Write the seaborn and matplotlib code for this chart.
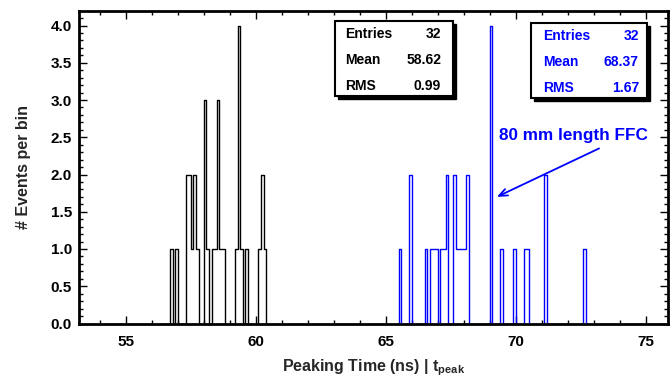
import numpy as np
import pandas as pd
import matplotlib
matplotlib.use("Agg")
import matplotlib.pyplot as plt
import seaborn as sns
from matplotlib.ticker import MultipleLocator, FormatStrFormatter
from matplotlib.patches import Rectangle

# ---------------- data (bin left edges, counts per 0.1 ns bin) ----------------
bin_width = 0.1
black_bins = [56.7, 56.9, 57.3, 57.4, 57.5, 57.6, 57.7, 58.0, 58.1, 58.3, 58.4,
              58.5, 58.6, 58.7, 59.2, 59.3, 59.4, 59.6, 60.1, 60.2, 60.3]
black_counts = [1, 1, 2, 2, 1, 2, 1, 3, 1, 1, 1,
                3, 1, 1, 1, 4, 1, 1, 1, 2, 1]
blue_bins = [65.5, 65.9, 66.5, 66.7, 66.8, 66.9, 67.1, 67.2, 67.3, 67.6, 67.7,
             67.8, 67.9, 68.0, 68.1, 69.0, 69.4, 69.9, 70.3, 70.4, 71.1, 72.6]
blue_counts = [1, 2, 1, 1, 1, 1, 1, 1, 2, 2, 1,
               1, 1, 1, 2, 4, 1, 1, 1, 1, 2, 1]

stats_labels = ["Entries", "Mean", "RMS"]
black_stats = ["32", "58.62", "0.99"]
blue_stats = ["32", "68.37", "1.67"]

x_label = "Peaking Time (ns) | t$_{peak}$"
y_label = "# Events per bin"
annotation = "80 mm length FFC"

# ---------------- style ----------------
sns.set_style("ticks")
plt.rcParams['font.family'] = ['Liberation Sans', 'DejaVu Sans']
plt.rcParams['font.weight'] = 'bold'
plt.rcParams['mathtext.fontset'] = 'custom'
plt.rcParams['mathtext.rm'] = 'Liberation Sans:bold'
plt.rcParams['mathtext.it'] = 'Liberation Sans:bold'
plt.rcParams['mathtext.bf'] = 'Liberation Sans:bold'
plt.rcParams['mathtext.default'] = 'bf'

fig = plt.figure(figsize=(6.72, 3.82), dpi=100)
ax = fig.add_axes([79 / 672, 1 - 323.5 / 382, 589 / 672, 312.5 / 382])


def draw_hist(lefts, counts, color):
    lefts = np.asarray(lefts, dtype=float)
    lo = round(lefts.min() - 2 * bin_width, 2)
    hi = round(lefts.max() + 3 * bin_width, 2)
    df = pd.DataFrame({"t": lefts + bin_width / 2, "w": np.asarray(counts, dtype=float)})
    sns.histplot(data=df, x="t", weights="w", binwidth=bin_width, binrange=(lo, hi),
                 element="step", fill=False, color=color, linewidth=1.0, ax=ax)


draw_hist(black_bins, black_counts, "black")
draw_hist(blue_bins, blue_counts, "#0000ff")

ax.set_xlim(53.2, 75.85)
ax.set_ylim(0, 312.5 / 74.5)

ax.xaxis.set_major_locator(MultipleLocator(5))
ax.xaxis.set_minor_locator(MultipleLocator(1))
ax.yaxis.set_major_locator(MultipleLocator(0.5))
ax.yaxis.set_minor_locator(MultipleLocator(0.1))
ax.yaxis.set_major_formatter(FormatStrFormatter("%.1f"))

ax.tick_params(which='both', direction='in', top=True, right=True,
               width=1.0, labelsize=11, colors='black')
ax.tick_params(which='major', length=6)
ax.tick_params(which='minor', length=3)
ax.tick_params(axis='x', which='major', pad=8)
ax.tick_params(axis='y', which='major', pad=5)
for lbl in ax.get_xticklabels() + ax.get_yticklabels():
    lbl.set_fontweight('bold')
for sp in ax.spines.values():
    sp.set_linewidth(2.0)
    sp.set_color('black')
    sp.set_visible(True)

ax.set_xlabel(x_label, fontsize=11.5, fontweight='bold', labelpad=6)
ax.set_ylabel(y_label, fontsize=11.5, fontweight='bold', labelpad=14)

# ---------------- stats boxes ----------------
H = 312.5
W = 589.0


def fx(px):
    return (px - 79) / W


def fy(py):
    return (323.5 - py) / H


def stats_box(x0, x1, y0, y1, rows_y, lx, rx, values, color):
    sh = Rectangle((fx(x0) + 3 / W, fy(y1) - 3 / H), fx(x1) - fx(x0), fy(y0) - fy(y1),
                   transform=ax.transAxes, facecolor='black', edgecolor='black',
                   lw=1.0, zorder=5, clip_on=False)
    ax.add_patch(sh)
    bx = Rectangle((fx(x0), fy(y1)), fx(x1) - fx(x0), fy(y0) - fy(y1),
                   transform=ax.transAxes, facecolor='white', edgecolor='black',
                   lw=1.5, zorder=6, clip_on=False)
    ax.add_patch(bx)
    for lab, val, ry in zip(stats_labels, values, rows_y):
        ax.text(fx(lx), fy(ry), lab, transform=ax.transAxes, ha='left', va='center',
                fontsize=10, fontweight='bold', color=color, zorder=7)
        ax.text(fx(rx), fy(ry), val, transform=ax.transAxes, ha='right', va='center',
                fontsize=10, fontweight='bold', color=color, zorder=7)


stats_box(335, 453, 21, 96, [34, 60, 86], 345, 441, black_stats, 'black')
stats_box(531, 647, 23, 98, [36, 62, 88], 543, 639, blue_stats, '#0000ff')

# ---------------- annotation ----------------
ax.text(69.35, 2.52, annotation, color='#0000ff', fontsize=12.3, fontweight='bold',
        ha='left', va='center')
ax.annotate("", xy=(69.27, 1.70), xytext=(73.2, 2.35),
            arrowprops=dict(arrowstyle='->,head_length=0.6,head_width=0.25',
                            color='#0000ff', lw=1.3, shrinkA=0, shrinkB=0))

fig.savefig("out.png", dpi=100)
